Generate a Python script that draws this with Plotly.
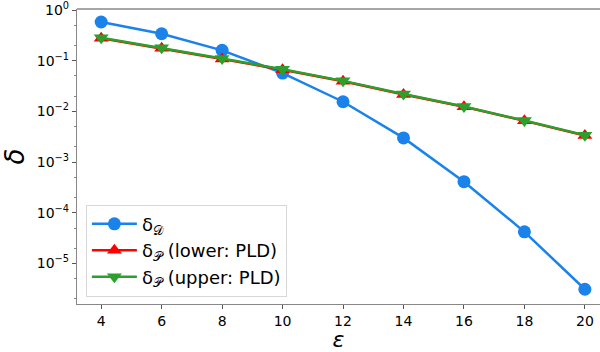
import plotly.graph_objects as go

eps = [4, 6, 8, 10, 12, 14, 16, 18, 20]
delta_D = [0.58, 0.34, 0.16, 0.057, 0.0155, 0.0030, 4.1e-4, 4.2e-5, 3.1e-6]
delta_P_lower = [0.278, 0.176, 0.108, 0.0665, 0.0392, 0.0216, 0.0123, 0.0065, 0.00335]
delta_P_upper = [0.285, 0.18, 0.11, 0.068, 0.040, 0.022, 0.0125, 0.0066, 0.0034]
ytick_vals = [1e0, 1e-1, 1e-2, 1e-3, 1e-4, 1e-5]
ytick_text = ["10<sup>0</sup>", "10<sup>−1</sup>", "10<sup>−2</sup>", "10<sup>−3</sup>",
              "10<sup>−4</sup>", "10<sup>−5</sup>"]

BLUE = "#1a82eb"
RED = "#ff0000"
GREEN = "#2ca02c"

fig = go.Figure()
fig.add_trace(go.Scatter(x=eps, y=delta_D, mode="lines+markers", name="δ<sub>𝒟</sub>",
                         line=dict(color=BLUE, width=2.5),
                         marker=dict(symbol="circle", size=13, color=BLUE)))
fig.add_trace(go.Scatter(x=eps, y=delta_P_lower, mode="lines+markers", name="δ<sub>𝒫</sub> (lower: PLD)",
                         line=dict(color=RED, width=2.5),
                         marker=dict(symbol="triangle-up", size=13, color=RED)))
fig.add_trace(go.Scatter(x=eps, y=delta_P_upper, mode="lines+markers", name="δ<sub>𝒫</sub> (upper: PLD)",
                         line=dict(color=GREEN, width=2.5),
                         marker=dict(symbol="triangle-down", size=13, color=GREEN)))

fig.update_layout(
    width=600, height=352,
    margin=dict(l=77, r=0, t=7, b=47),
    plot_bgcolor="white", paper_bgcolor="white",
    font=dict(family="DejaVu Sans", color="black", size=14),
    showlegend=True,
    legend=dict(x=0.017, y=0.025, xanchor="left", yanchor="bottom",
                bgcolor="rgba(255,255,255,0.8)", bordercolor="#d8d8d8", borderwidth=1,
                font=dict(size=18), itemwidth=45, tracegroupgap=0),
)
fig.update_xaxes(range=[3.2, 20.5], tickvals=eps, ticks="outside", ticklen=4,
                 tickcolor="#555", showline=True, linecolor="#888", linewidth=1.3,
                 mirror=False, showgrid=False, zeroline=False,
                 title=dict(text="<i>ε</i>", font=dict(size=22), standoff=8))
fig.update_yaxes(type="log", range=[-5.8, 0.02], tickvals=ytick_vals, ticktext=ytick_text,
                 ticklabeloverflow="allow",
                 ticks="outside", ticklen=4, tickcolor="#555",
                 minor=dict(ticks="outside", ticklen=2, tickcolor="#888", showgrid=False),
                 showline=True, linecolor="#888", linewidth=1.3, showgrid=False, zeroline=False,
                 title=dict(text="<i>δ</i>", font=dict(size=26), standoff=4))
# top spine
fig.add_shape(type="line", xref="paper", yref="paper", x0=0, x1=1, y0=1, y1=1,
              line=dict(color="#888", width=1.3))

fig.write_html("out.html")
